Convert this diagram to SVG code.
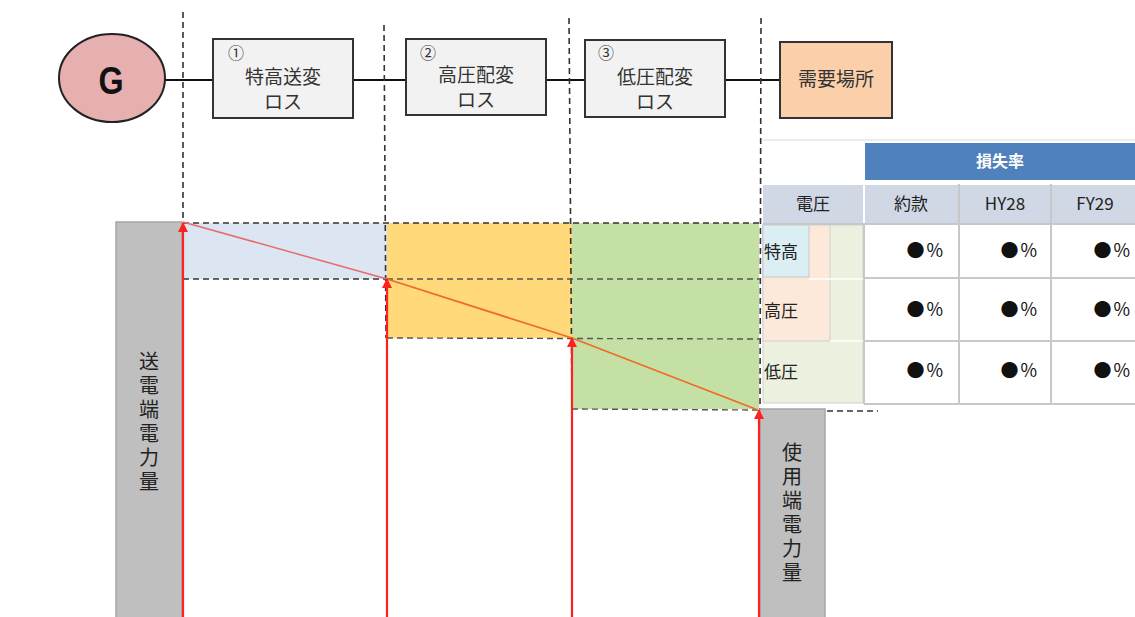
<svg xmlns="http://www.w3.org/2000/svg" width="1135" height="617" viewBox="0 0 1135 617">
<defs>
<marker id="ah" viewBox="0 0 10 10" refX="9" refY="5" markerWidth="10" markerHeight="10" markerUnits="userSpaceOnUse" orient="auto">
<path d="M0,0 L10,5 L0,10 Z" fill="#FF2020"/>
</marker>
<style>
text{font-family:"Noto Sans CJK JP","Liberation Sans",sans-serif;fill:#333}
.box{fill:#F2F2F2;stroke:#333;stroke-width:2}
.lbl{font-size:19px}
.num{font-size:16px;text-anchor:start}
.mid{text-anchor:middle}
.dash{stroke:#333;stroke-width:1.6;stroke-dasharray:6,4;fill:none}
.dashg{stroke:#555;stroke-width:1.4;stroke-dasharray:6,4;fill:none}
.wire{stroke:#111;stroke-width:2.2}
.arr{stroke:#FF2020;stroke-width:2.2;fill:none}
.pct{font-size:18px;text-anchor:end;fill:#111}
.hd{font-size:17px;text-anchor:middle;fill:#222}
.vt{font-size:20px;fill:#222;writing-mode:vertical-rl;letter-spacing:4px}
.bar{fill:#BFBFBF;stroke:#A6A6A6;stroke-width:1.5}
</style>
</defs>
<rect width="1135" height="617" fill="#fff"/>

<g id="areas">
<rect x="183" y="223" width="204" height="56" fill="#DCE6F2"/>
<rect x="387" y="223" width="185" height="115" fill="#FFD97A"/>
<rect x="572" y="223" width="187" height="186" fill="#C5E0A5"/>
</g>

<g id="table">
<line x1="763" y1="140" x2="1135" y2="140" stroke="#E6E6E6" stroke-width="1.5"/>
<rect x="865" y="143" width="270" height="37" fill="#4F81BD"/>
<text x="1000" y="167" font-size="16" font-weight="bold" text-anchor="middle" style="fill:#fff">損失率</text>
<rect x="763" y="185" width="100" height="38" fill="#D0D7E5"/>
<rect x="865" y="185" width="93" height="38" fill="#D0D7E5"/>
<rect x="960" y="185" width="90" height="38" fill="#D0D7E5"/>
<rect x="1052" y="185" width="83" height="38" fill="#D0D7E5"/>
<text class="hd" x="813" y="210">電圧</text>
<text class="hd" x="911" y="210">約款</text>
<text class="hd" x="1005" y="210">HY28</text>
<text class="hd" x="1095" y="210">FY29</text>
<rect x="763" y="225" width="100" height="178" fill="#EBF1DE" stroke="#D0D0D0" stroke-width="1"/>
<rect x="763" y="225" width="67" height="116" fill="#FDE9D9" stroke="#D0D0D0" stroke-width="1"/>
<rect x="763" y="225" width="46" height="52" fill="#DAEEF3" stroke="#C8C8C8" stroke-width="1"/>
<line x1="809" y1="279" x2="863" y2="279" stroke="#fff" stroke-width="1.5"/>
<line x1="830" y1="341" x2="863" y2="341" stroke="#fff" stroke-width="1.5"/>
<text x="764" y="258" font-size="17" style="fill:#222">特高</text>
<text x="764" y="317" font-size="17" style="fill:#222">高圧</text>
<text x="764" y="378" font-size="17" style="fill:#222">低圧</text>
<g stroke="#C8C8C8" stroke-width="2">
<line x1="864" y1="224" x2="864" y2="404"/>
<line x1="959" y1="184" x2="959" y2="404"/>
<line x1="1051" y1="184" x2="1051" y2="404"/>
<line x1="864" y1="278" x2="1135" y2="278"/>
<line x1="864" y1="341" x2="1135" y2="341"/>
<line x1="864" y1="404" x2="1135" y2="404"/>
<line x1="763" y1="224" x2="1135" y2="224"/>
</g>
<text class="pct" x="943" y="257">●<tspan dx="2">%</tspan></text>
<text class="pct" x="1037" y="257">●<tspan dx="2">%</tspan></text>
<text class="pct" x="1130" y="257">●<tspan dx="2">%</tspan></text>
<text class="pct" x="943" y="316">●<tspan dx="2">%</tspan></text>
<text class="pct" x="1037" y="316">●<tspan dx="2">%</tspan></text>
<text class="pct" x="1130" y="316">●<tspan dx="2">%</tspan></text>
<text class="pct" x="943" y="377">●<tspan dx="2">%</tspan></text>
<text class="pct" x="1037" y="377">●<tspan dx="2">%</tspan></text>
<text class="pct" x="1130" y="377">●<tspan dx="2">%</tspan></text>
</g>

<g id="connectors">
<line class="wire" x1="165" y1="80" x2="213" y2="80"/>
<line class="wire" x1="353" y1="80" x2="406" y2="80"/>
<line class="wire" x1="546" y1="80" x2="585" y2="80"/>
<line class="wire" x1="725" y1="80" x2="780" y2="80"/>
<line class="dash" x1="183" y1="12" x2="183" y2="222"/>
<line class="dash" x1="384" y1="25" x2="386" y2="338"/>
<line class="dash" x1="569" y1="18" x2="572" y2="409"/>
<line class="dash" x1="761" y1="18" x2="760" y2="410"/>
<line class="dash" x1="183" y1="223" x2="760" y2="223"/>
<line class="dash" x1="183" y1="279" x2="387" y2="279"/>
<line class="dashg" x1="387" y1="279" x2="760" y2="279"/>
<line class="dashg" x1="387" y1="338" x2="760" y2="339"/>
<line class="dashg" x1="572" y1="409" x2="760" y2="410"/>
<line class="dash" x1="827" y1="411" x2="878" y2="411"/>
<line x1="183" y1="222" x2="387" y2="279" stroke="#E86A6A" stroke-width="1.5"/>
<polyline points="387,279 572,338 758,410" fill="none" stroke="#F06A28" stroke-width="1.8"/>
</g>

<g id="bar-send">
<rect class="bar" x="116" y="222" width="66" height="400"/>
<text class="vt" x="149" y="351">送電端電力量</text>
</g>
<g id="bar-use">
<rect class="bar" x="760" y="409" width="65" height="215"/>
<text class="vt" x="792" y="442">使用端電力量</text>
</g>

<g id="arrows">
<line class="arr" x1="183" y1="617" x2="183" y2="223" marker-end="url(#ah)"/>
<line class="arr" x1="387" y1="617" x2="387" y2="279" marker-end="url(#ah)"/>
<line class="arr" x1="572" y1="617" x2="572" y2="338" marker-end="url(#ah)"/>
<line class="arr" x1="759" y1="617" x2="759" y2="410" marker-end="url(#ah)"/>
</g>

<g id="node-G">
<ellipse cx="112" cy="78" rx="53" ry="44" fill="#E6B0B0" stroke="#222" stroke-width="2"/>
<text x="111" y="94" font-size="38" font-weight="bold" text-anchor="middle" style="font-family:'Liberation Sans',sans-serif;fill:#111" transform="translate(111 0) scale(0.85 1) translate(-111 0)">G</text>
</g>
<g id="node-1">
<rect class="box" x="213" y="39" width="140" height="79"/>
<text class="lbl"><tspan class="num" x="228" y="59">①</tspan><tspan class="mid" x="283" y="84">特高送変</tspan><tspan class="mid" x="283" y="109">ロス</tspan></text>
</g>
<g id="node-2">
<rect class="box" x="406" y="39" width="140" height="76"/>
<text class="lbl"><tspan class="num" x="420" y="59">②</tspan><tspan class="mid" x="476" y="82">高圧配変</tspan><tspan class="mid" x="476" y="107">ロス</tspan></text>
</g>
<g id="node-3">
<rect class="box" x="585" y="40" width="140" height="77"/>
<text class="lbl"><tspan class="num" x="598" y="59">③</tspan><tspan class="mid" x="655" y="84">低圧配変</tspan><tspan class="mid" x="655" y="109">ロス</tspan></text>
</g>
<g id="node-demand">
<rect x="780" y="42" width="112" height="76" fill="#FBCFAA" stroke="#333" stroke-width="2"/>
<text class="lbl mid" x="836" y="86">需要場所</text>
</g>
</svg>
